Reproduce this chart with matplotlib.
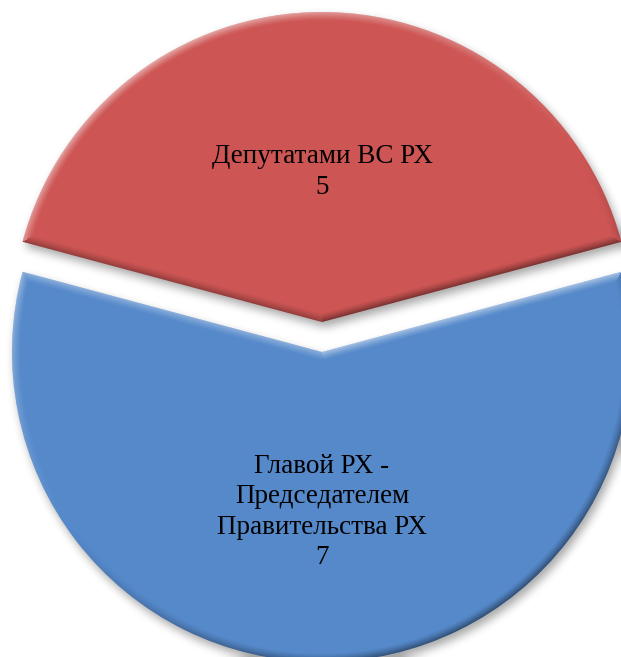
import numpy as np
import matplotlib
matplotlib.use("Agg")
import matplotlib.pyplot as plt

# ---- data ----
labels = ["Депутатами ВС РХ", "Главой РХ -\nПредседателем\nПравительства РХ"]
values = [5, 7]
colors = ["#CD5654", "#5589CA"]

W, H = 621, 657
fig = plt.figure(figsize=(W / 100, H / 100), dpi=100)
ax = fig.add_axes([0, 0, 1, 1])

total = sum(values)


def fmt(pct):
    v = int(round(pct * total / 100.0))
    i = values.index(v)
    return f"{labels[i]}\n{v}"


wedges, texts, autotexts = ax.pie(
    values, colors=colors, startangle=15, radius=310, center=(322, 320),
    explode=[15, 15], counterclock=True, autopct=fmt, pctdistance=0.5,
    wedgeprops=dict(linewidth=0),
    textprops=dict(fontsize=19.5, family="Liberation Serif", color="black",
                   linespacing=1.28),
)
for t in autotexts:
    t.set_zorder(10)
    x0, y0 = t.get_position()
    t.set_position((x0, y0 - 5))

ax.set_xlim(0, W)
ax.set_ylim(0, H)
ax.set_aspect("auto")
ax.axis("off")

# ---- bevel / shadow effects computed from the wedge geometry ----
xs = np.arange(W) + 0.5
ys = np.arange(H) + 0.5
X, Y = np.meshgrid(xs, ys)
pts = np.column_stack([X.ravel(), Y.ravel()])


def geom(w):
    cx, cy = w.center
    r = w.r
    t1, t2 = np.radians(w.theta1), np.radians(w.theta2)
    dx, dy = X - cx, Y - cy
    rho = np.hypot(dx, dy) + 1e-9
    d_arc = r - rho
    nax, nay = dx / rho, dy / rho
    n1 = (np.sin(t1), -np.cos(t1))
    p1 = dx * np.cos(t1) + dy * np.sin(t1)
    d1 = np.where(p1 > 0, np.abs(dx * n1[0] + dy * n1[1]), rho)
    n2 = (-np.sin(t2), np.cos(t2))
    p2 = dx * np.cos(t2) + dy * np.sin(t2)
    d2 = np.where(p2 > 0, np.abs(dx * n2[0] + dy * n2[1]), rho)
    D = np.stack([d_arc, d1, d2])
    idx = np.argmin(D, axis=0)
    dmin = np.min(D, axis=0)
    NX = np.choose(idx, [nax, np.full_like(X, n1[0]), np.full_like(X, n2[0])])
    NY = np.choose(idx, [nay, np.full_like(X, n1[1]), np.full_like(X, n2[1])])
    return dmin, NX, NY


L = np.array([-0.55, 0.83])
L = L / np.linalg.norm(L)
B = 9.0
for w in wedges:
    dmin, NX, NY = geom(w)
    s = NX * L[0] + NY * L[1]
    t = np.clip(1 - dmin / B, 0, 1) ** 1.3
    a = np.where(s > 0, np.clip(s, 0, 1) * t * 0.5, np.clip(-s, 0, 1) * t * 0.45)
    rgba = np.zeros((H, W, 4))
    rgba[..., :3] = np.where(s > 0, 1.0, 0.0)[..., None]
    rgba[..., 3] = a
    im = ax.imshow(rgba, extent=(0, W, 0, H), origin="lower",
                   interpolation="bilinear", zorder=w.get_zorder() + 0.5)
    im.set_clip_path(w)

# soft outer shadow
mask = np.zeros(X.size, dtype=bool)
for w in wedges:
    mask |= w.get_path().contains_points(pts - np.array([3.0, -5.0]))
mask = mask.reshape(H, W).astype(float)


def box(a, k, axis):
    pad = k // 2
    a = np.pad(a, [(pad, pad) if i == axis else (0, 0) for i in range(2)], mode="edge")
    c = np.cumsum(a, axis=axis)
    c = np.insert(c, 0, 0, axis=axis)
    if axis == 0:
        return (c[k:] - c[:-k]) / k
    return (c[:, k:] - c[:, :-k]) / k


sh = mask
for _ in range(3):
    sh = box(sh, 9, 0)
    sh = box(sh, 9, 1)
srgba = np.zeros((H, W, 4))
srgba[..., 3] = sh * 0.35
ax.imshow(srgba, extent=(0, W, 0, H), origin="lower", interpolation="bilinear", zorder=0.5)

ax.set_xlim(0, W)
ax.set_ylim(0, H)
fig.savefig("out.png", dpi=100)
